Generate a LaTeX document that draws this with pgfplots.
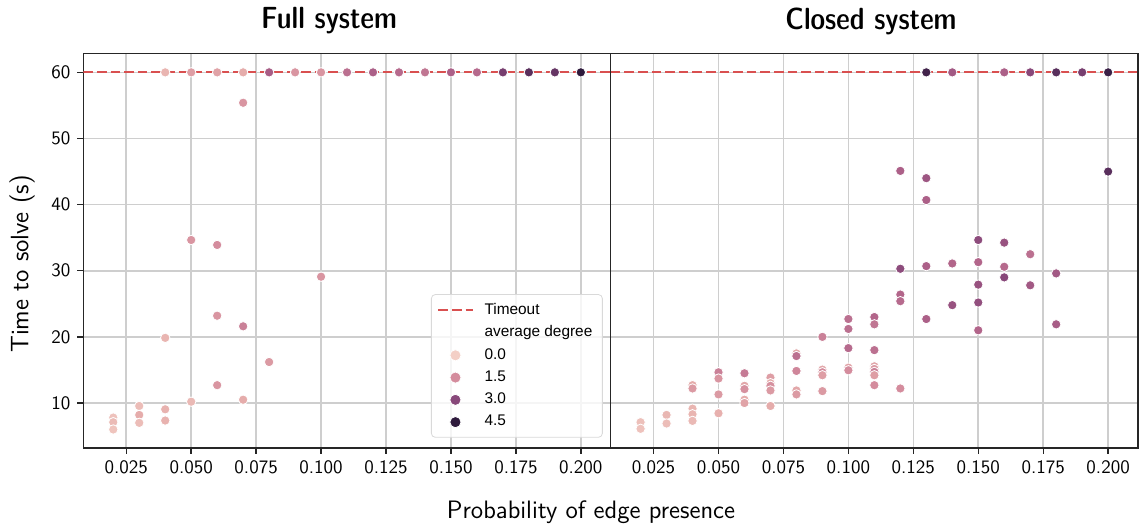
\documentclass[border=0pt]{standalone}
\usepackage{fontspec}
\usepackage{pgfplots}
\usepackage{pgfplotstable}
\pgfplotsset{compat=1.18}
\newfontfamily\legfont{Liberation Sans}
\newcommand\sfc{\fontfamily{lmss}\fontseries{sbc}\selectfont}

\definecolor{tmo}{RGB}{217,80,80}
\definecolor{gridc}{RGB}{206,206,206}
\definecolor{c0}{RGB}{243,207,198}
\definecolor{c1}{RGB}{212,140,157}
\definecolor{c2}{RGB}{136,72,122}
\definecolor{c3}{RGB}{46,26,60}

% x = edge probability, y = time (s), c = average degree
\pgfplotstableread{
x y c
0.02 7.8 0.3
0.02 7.1 0.45
0.02 6.0 0.25
0.03 9.55 0.4
0.03 8.2 0.8
0.03 7.0 0.4
0.04 19.85 0.6
0.04 9.05 0.65
0.04 7.35 0.65
0.04 60 0.6
0.05 34.65 1.3
0.05 10.2 0.5
0.05 60 1.1
0.06 33.9 1.5
0.06 23.2 1.3
0.06 12.7 1.3
0.06 60 1.0
0.07 55.4 1.3
0.07 21.6 1.7
0.07 10.5 0.8
0.07 60 0.8
0.08 16.2 1.2
0.08 60 2.4
0.09 60 1.3
0.10 29.1 1.3
0.10 60 1.3
0.11 60 2.0
0.12 60 2.3
0.13 60 2.1
0.14 60 1.9
0.15 60 2.3
0.16 60 2.1
0.17 60 3.3
0.18 60 3.8
0.19 60 3.6
0.20 60 4.5
}\fulldata

\pgfplotstableread{
x y c
0.02 7.1 0.35
0.02 6.1 0.3
0.03 8.2 0.55
0.03 6.9 0.4
0.04 12.7 0.8
0.04 12.2 1.2
0.04 9.15 0.6
0.04 8.3 0.6
0.04 7.3 0.5
0.05 14.65 1.7
0.05 13.7 1.3
0.05 11.3 1.2
0.05 8.45 0.7
0.06 14.5 1.8
0.06 12.6 0.9
0.06 12.1 1.4
0.06 10.5 0.8
0.06 10.0 1.0
0.07 13.85 1.1
0.07 13.0 0.8
0.07 12.6 1.4
0.07 11.9 1.2
0.07 9.55 0.8
0.08 17.5 0.9
0.08 17.1 2.0
0.08 14.85 1.6
0.08 11.9 0.9
0.08 11.3 1.2
0.09 20.0 1.7
0.09 15.05 0.9
0.09 14.65 1.5
0.09 14.2 1.1
0.09 11.8 1.2
0.10 22.7 2.0
0.10 21.2 2.0
0.10 18.3 2.1
0.10 15.35 1.0
0.10 14.95 1.5
0.11 23.0 2.2
0.11 21.9 1.9
0.11 18.0 2.0
0.11 15.55 1.0
0.11 15.15 1.2
0.11 14.7 1.7
0.11 14.2 1.1
0.11 12.7 1.5
0.12 45.1 2.3
0.12 30.3 2.9
0.12 26.4 2.2
0.12 25.4 2.1
0.12 12.2 1.5
0.13 60 4.2
0.13 44.0 2.6
0.13 40.7 2.3
0.13 30.7 2.3
0.13 22.7 2.3
0.14 60 2.5
0.14 31.1 2.2
0.14 24.8 2.7
0.15 34.65 2.9
0.15 31.3 2.2
0.15 27.9 2.7
0.15 25.2 2.8
0.15 21.0 2.2
0.16 60 2.3
0.16 34.25 2.7
0.16 30.6 2.1
0.16 29.0 3.0
0.17 60 3.0
0.17 32.5 2.0
0.17 27.8 2.5
0.18 60 3.8
0.18 29.6 2.5
0.18 21.9 2.4
0.19 60 3.3
0.20 60 4.3
0.20 45.0 3.8
}\closeddata

\pgfplotsset{
  panel/.style={
    scale only axis, width=263.65pt, height=197.25pt,
    xmin=0.0085, xmax=0.2115, ymin=3.2, ymax=62.85,
    xtick={0.025,0.05,0.075,0.1,0.125,0.15,0.175,0.2},
    ytick={10,20,30,40,50,60},
    grid=major, major grid style={gridc, line width=0.8pt},
    axis line style={black!85, line width=0.7pt},
    tick align=outside, tick pos=left, major tick length=3pt,
    tick style={black!85, line width=0.7pt},
    /pgf/number format/assume math mode=true,
    tick label style={font=\sffamily\fontsize{9.5}{11}\selectfont},
    xticklabel style={/pgf/number format/.cd, fixed, fixed zerofill, precision=3},
    yticklabel style={/pgf/number format/.cd, fixed, precision=0},
    colormap={deg}{rgb255(0cm)=(243,207,198) rgb255(1cm)=(230,174,172)
      rgb255(2cm)=(212,140,157) rgb255(3cm)=(175,98,137) rgb255(4cm)=(136,72,122)
      rgb255(5cm)=(92,48,94) rgb255(6cm)=(46,26,60)},
    point meta min=0, point meta max=4.5,
  },
  pts/.style={scatter, only marks, mark=*, mark size=2.35pt, scatter src=explicit,
    scatter/use mapped color={draw=white, fill=mapped color},
    mark options={line width=0.4pt}},
  tline/.style={tmo, line width=1pt, dash pattern=on 4.8pt off 2pt},
  legdot/.style={only marks, mark=*, mark size=2.8pt, draw=white, fill=#1,
    fill opacity=1, draw opacity=1},
}

\begin{document}
\begin{tikzpicture}
\path[use as bounding box] (0,0) rectangle (570.5pt,264pt);

\begin{axis}[panel, at={(41.7pt,40pt)}, anchor=south west,
  legend style={at={(0.985,0.026)}, anchor=south east, draw=black!15,
    rounded corners=2pt, fill=white, fill opacity=0.8, text opacity=1,
    font=\legfont\fontsize{7.7}{9.4}\selectfont, row sep=0.3pt, column sep=3.5pt,
    inner xsep=3pt, inner ysep=2.2pt},
  legend cell align=left]
\addplot[tline, draw opacity=1] coordinates {(0.0085,60) (0.2115,60)};
\addlegendentry{Timeout}
\addlegendimage{empty legend}
\addlegendentry{average degree}
\addlegendimage{legdot=c0}
\addlegendentry{0.0}
\addlegendimage{legdot=c1}
\addlegendentry{1.5}
\addlegendimage{legdot=c2}
\addlegendentry{3.0}
\addlegendimage{legdot=c3}
\addlegendentry{4.5}
\addplot[pts, forget plot] table[x=x, y=y, meta=c] {\fulldata};
\end{axis}

\begin{axis}[panel, at={(305.35pt,40pt)}, anchor=south west,
  yticklabel=\empty, ytick style={draw=none}]
\addplot[tline, forget plot] coordinates {(0.0085,60) (0.2115,60)};
\addplot[pts, forget plot] table[x=x, y=y, meta=c] {\closeddata};
\end{axis}

\node[font=\sfc\fontsize{15.3}{18}\selectfont] at (164.5pt,253.5pt) {Full system};
\node[font=\sfc\fontsize{15.3}{18}\selectfont] at (435.5pt,253.5pt) {Closed system};
\node[font=\sffamily\fontsize{12.6}{15}\selectfont] at (295.5pt,8pt) {Probability of edge presence};
\node[font=\sffamily\fontsize{12.6}{15}\selectfont, rotate=90] at (11pt,132pt) {Time to solve (s)};
\end{tikzpicture}
\end{document}
